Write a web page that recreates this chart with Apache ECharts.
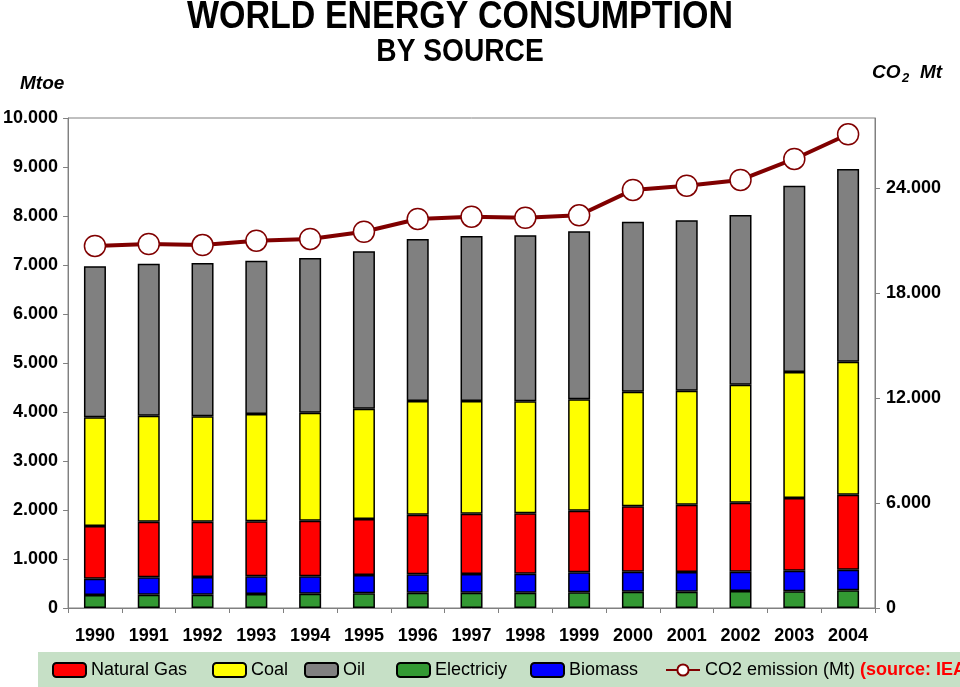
<!DOCTYPE html>
<html><head><meta charset="utf-8">
<script src="https://cdn.jsdelivr.net/npm/echarts@6/dist/echarts.min.js"></script>
<style>html,body{margin:0;padding:0;background:#fff}#c{width:960px;height:687px}</style>
</head><body><div id="c"></div>
<script>
var years = ['1990','1991','1992','1993','1994','1995','1996','1997','1998','1999','2000','2001','2002','2003','2004'];
var electricity = [265,272,272,286,292,299,313,313,313,320,333,333,347,340,361];
var biomass = [333,354,361,360,354,374,374,381,388,408,408,402,394,422,421];
var naturalGas = [1075,1136,1129,1123,1136,1143,1218,1231,1231,1258,1334,1374,1409,1483,1531];
var coal = [2218,2163,2150,2190,2204,2252,2319,2299,2286,2273,2340,2326,2408,2571,2714];
var oil = [3082,3102,3129,3129,3157,3211,3306,3366,3388,3431,3469,3477,3462,3802,3932];
var co2 = [20690,20800,20740,20990,21090,21500,22230,22360,22300,22440,23890,24130,24460,25660,27070];

function fmt(v){ return String(v).replace(/\B(?=(\d{3})+(?!\d))/g,'.'); }
var FONT = "'Liberation Sans', Arial, sans-serif";
var chart = echarts.init(document.getElementById('c'), null, {renderer:'canvas'});
var barStyle = function(c){ return {color:c, borderColor:'#000', borderWidth:1.5}; };
function bar(name, data, color){
  return {name:name, type:'bar', stack:'e', data:data, barWidth:22, itemStyle:barStyle(color), emphasis:{disabled:true}};
}
var legTxt = {fontFamily:FONT, fontSize:18, color:'#000'};
function leg(name, left, w){
  return {data:[name], left:left, top:661, itemWidth:w||33, itemHeight:14, itemGap:0, textStyle:legTxt, selectedMode:false, padding:0};
}
var option = {
  animation:false,
  backgroundColor:'#fff',
  graphic:[
    {type:'rect', shape:{x:38,y:652,width:922,height:35}, style:{fill:'#c6e0c6'}, z:-1},
    {type:'text', x:460, y:17, scaleX:0.872, style:{text:'WORLD ENERGY CONSUMPTION', font:"bold 39px "+FONT, fill:'#000', align:'center', verticalAlign:'middle'}},
    {type:'text', x:460, y:52, scaleX:0.88, style:{text:'BY SOURCE', font:"bold 32px "+FONT, fill:'#000', align:'center', verticalAlign:'middle'}},
    {type:'text', left:20, top:74, style:{text:'Mtoe', font:"italic bold 19px "+FONT, fill:'#000'}},
    {type:'text', left:872, top:63, style:{text:'CO', font:"italic bold 19px "+FONT, fill:'#000'}},
    {type:'text', left:902, top:72, style:{text:'2', font:"italic bold 13px "+FONT, fill:'#000'}},
    {type:'text', left:920, top:63, style:{text:'Mt', font:"italic bold 19px "+FONT, fill:'#000'}}
  ],
  legend:[
    leg('Natural Gas',52), leg('Coal',212), leg('Oil',304), leg('Electriciy',396), leg('Biomass',530),
    {data:['CO2 emission (Mt)'], left:665, top:661, itemWidth:34, itemHeight:14, selectedMode:false, padding:0,
     textStyle:{fontFamily:FONT, fontSize:18, color:'#000', rich:{s:{fontFamily:FONT, fontSize:18, fontWeight:'bold', color:'#ff0000'}, n:{fontFamily:FONT, fontSize:18, color:'#000'}}},
     formatter:function(n){ return '{n|'+n+'} {s|(source: IEA)}'; }}
  ],
  grid:{left:67, right:85, top:118, bottom:79, show:true, borderColor:'#808080', borderWidth:1},
  xAxis:{type:'category', data:years,
    axisLine:{lineStyle:{color:'#808080'}}, axisTick:{show:true, length:5, lineStyle:{color:'#808080'}},
    axisLabel:{margin:19, fontFamily:FONT, fontWeight:'bold', fontSize:18, color:'#000'}},
  yAxis:[
    {type:'value', min:0, max:10000, interval:1000, position:'left',
     axisLine:{show:true, lineStyle:{color:'#808080'}}, axisTick:{show:true, length:5, lineStyle:{color:'#808080'}},
     splitLine:{show:false},
     axisLabel:{margin:10, fontFamily:FONT, fontWeight:'bold', fontSize:18, color:'#000', formatter:fmt}},
    {type:'value', min:0, max:28000, interval:6000, position:'right',
     axisLine:{show:true, lineStyle:{color:'#808080'}}, axisTick:{show:true, length:5, lineStyle:{color:'#808080'}},
     splitLine:{show:false},
     axisLabel:{margin:11, showMaxLabel:false, fontFamily:FONT, fontWeight:'bold', fontSize:18, color:'#000', formatter:fmt}}
  ],
  series:[
    bar('Electriciy', electricity, '#339933'),
    bar('Biomass', biomass, '#0000ff'),
    bar('Natural Gas', naturalGas, '#ff0000'),
    bar('Coal', coal, '#ffff00'),
    bar('Oil', oil, '#808080'),
    {name:'CO2 emission (Mt)', type:'line', yAxisIndex:1, data:co2, symbol:'circle', symbolSize:21,
     lineStyle:{color:'#800000', width:4}, itemStyle:{color:'#fff', borderColor:'#800000', borderWidth:1.5},
     emphasis:{disabled:true}, z:5}
  ]
};
chart.setOption(option);
</script></body></html>
